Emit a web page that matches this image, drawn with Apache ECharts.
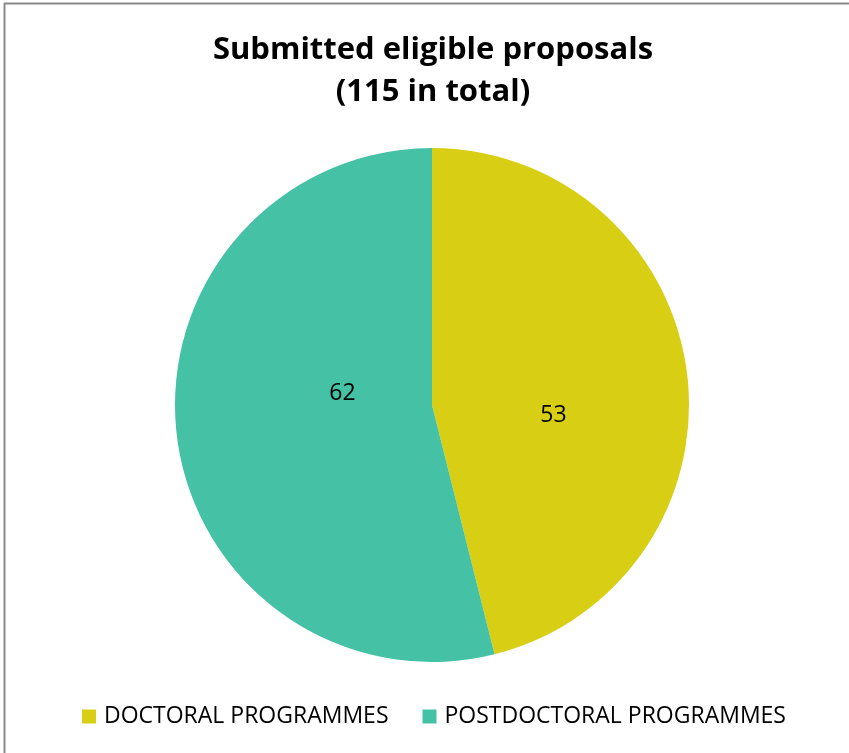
<!DOCTYPE html>
<html><head><meta charset="utf-8">
<script src="https://cdn.jsdelivr.net/npm/echarts@6/dist/echarts.min.js"></script>
<style>html,body{margin:0;padding:0;background:#fff}#c{width:849px;height:753px}</style>
</head><body><div id="c"></div>
<script>
var titleText = 'Submitted eligible proposals\n(115 in total)';
var categories = ['DOCTORAL PROGRAMMES', 'POSTDOCTORAL PROGRAMMES'];
var values = [53, 62];
var colors = ['#D8CE14', '#45C2A5'];
var labelOffsets = [[-9, 27], [41, -28]];

var chart = echarts.init(document.getElementById('c'));
var data = categories.map(function (n, i) {
  return { name: n, value: values[i], itemStyle: { color: colors[i] }, label: { offset: labelOffsets[i] } };
});
chart.setOption({
  animation: false,
  title: {
    text: titleText, left: 428, textAlign: 'center', top: 24,
    textStyle: { fontFamily: 'Open Sans', fontWeight: 'bold', fontSize: 31, lineHeight: 42, color: '#000' }
  },
  legend: {
    bottom: 20, left: 77, itemWidth: 14, itemHeight: 14, itemGap: 34, icon: 'rect',
    textStyle: { fontFamily: 'Open Sans', fontSize: 23, color: '#000', padding: [0, 0, 0, 3] },
    data: categories
  },
  graphic: [
    { type: 'line', shape: { x1: 4, y1: 3.5, x2: 849, y2: 3.5 }, style: { stroke: '#898989', lineWidth: 2 } },
    { type: 'line', shape: { x1: 4.5, y1: 3, x2: 4.5, y2: 753 }, style: { stroke: '#898989', lineWidth: 2 } }
  ],
  series: [{
    type: 'pie', center: [432, 405], radius: 257, startAngle: 90, clockwise: true,
    label: { position: 'inside', formatter: '{c}', fontFamily: 'Open Sans', fontSize: 23, color: '#000' },
    labelLine: { show: false },
    emphasis: { disabled: true },
    data: data
  }]
});
</script></body></html>
